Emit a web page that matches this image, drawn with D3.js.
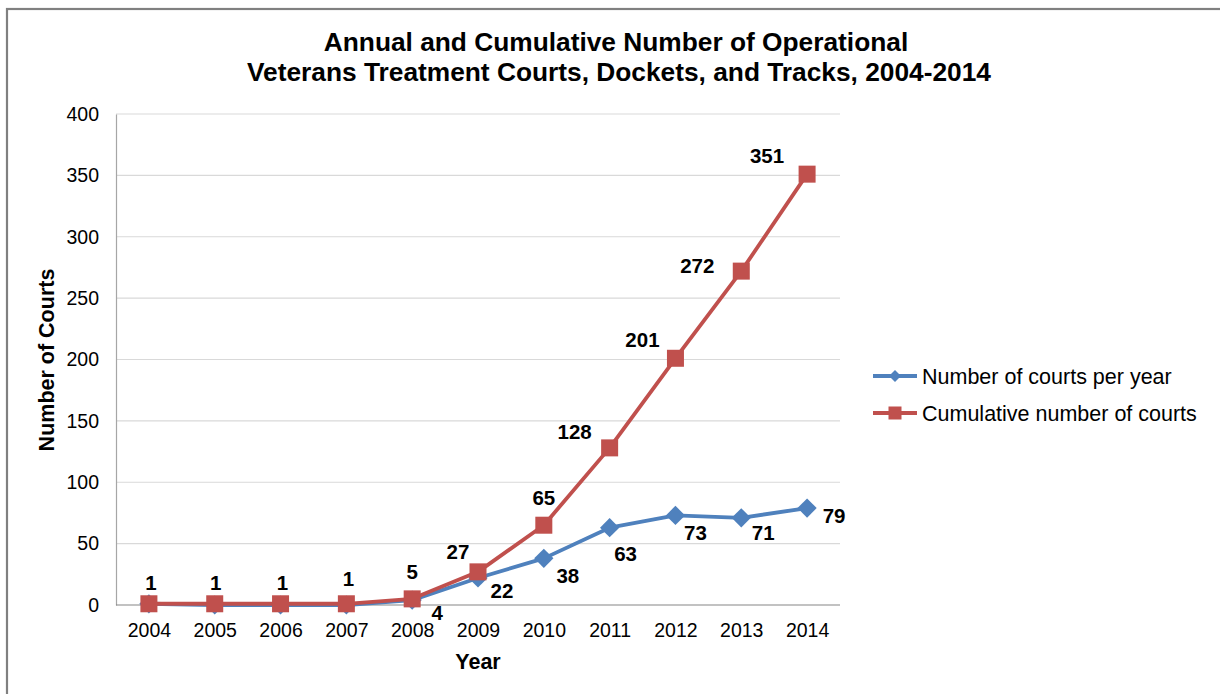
<!DOCTYPE html>
<html><head><meta charset="utf-8">
<script src="https://cdn.jsdelivr.net/npm/d3@7"></script>
<style>body{margin:0;background:#fff;} svg{display:block;font-family:"Liberation Sans",Arial,sans-serif;}</style>
</head><body>
<svg id="c" width="1220" height="694"></svg>
<script>
const years = ["2004","2005","2006","2007","2008","2009","2010","2011","2012","2013","2014"];
const perYear = [1,0,0,0,4,22,38,63,73,71,79];
const cumulative = [1,1,1,1,5,27,65,128,201,272,351];
const yTicks = [0,50,100,150,200,250,300,350,400];
const seriesNames = ["Number of courts per year","Cumulative number of courts"];
const perYearLabelFrom = 4; // labels shown from 2008 onward
// label placement offsets (dx, baseline dy) relative to the marker
const cumOffsets = [[2,-14],[1,-14],[2,-14],[2,-18],[0,-20],[-20,-13],[0,-20],[-35,-9],[-33,-11],[-44,2],[-40,-11]];
const perOffsets = [[0,0],[0,0],[0,0],[0,0],[25,20],[24,20],[24,25],[16,33],[20,25],[22,22],[27,15]];

const svg = d3.select("#c");
const blue = "#4F81BD", red = "#C0504D";
const m = {l:116, r:840, t:114, b:605};
const FONT = "Liberation Sans, Arial, sans-serif";

svg.append("rect").attr("x",7).attr("y",9).attr("width",1240).attr("height",720)
  .attr("fill","none").attr("stroke","#808080").attr("stroke-width",2.2);

const x = d3.scalePoint().domain(years).range([m.l, m.r]).padding(0.5);
const y = d3.scaleLinear().domain([0,400]).range([m.b, m.t]);

// gridlines
svg.append("g").selectAll("line").data(yTicks.filter(d=>d>0)).join("line")
  .attr("x1",m.l).attr("x2",m.r).attr("y1",d=>y(d)).attr("y2",d=>y(d))
  .attr("stroke","#d9d9d9").attr("stroke-width",1.2);

// y axis
const ya = svg.append("g").attr("transform",`translate(${m.l},0)`)
  .call(d3.axisLeft(y).tickValues(yTicks).tickSize(0).tickPadding(17));
ya.select(".domain").attr("stroke","#a6a6a6").attr("stroke-width",1.2);
ya.selectAll("text").attr("font-size",19.5).attr("fill","#000").attr("font-family",FONT);

// x axis
const xa = svg.append("g").attr("transform",`translate(0,${m.b})`)
  .call(d3.axisBottom(x).tickSize(0).tickPadding(18));
xa.select(".domain").attr("stroke","#868686").attr("stroke-width",1.2).attr("d",`M${m.l},0H${m.r}`);
xa.selectAll("text").attr("font-size",19.5).attr("fill","#000").attr("font-family",FONT).attr("dy",0).attr("y",32);

// title
const title = svg.append("text").attr("text-anchor","middle").attr("font-weight","bold").attr("font-size",26.3).attr("fill","#000");
title.append("tspan").attr("x",616).attr("y",51).text("Annual and Cumulative Number of Operational");
title.append("tspan").attr("x",619).attr("y",81).text("Veterans Treatment Courts, Dockets, and Tracks, 2004-2014");

// axis titles
svg.append("text").attr("x",478).attr("y",669).attr("text-anchor","middle").attr("font-weight","bold").attr("font-size",21.5).text("Year");
svg.append("text").attr("transform","translate(54,360) rotate(-90)").attr("text-anchor","middle").attr("font-weight","bold").attr("font-size",21.5).text("Number of Courts");

const line = d3.line().x((d,i)=>x(years[i])).y(d=>y(d));

// per-year series (blue)
svg.append("path").datum(perYear).attr("d",line).attr("fill","none").attr("stroke",blue).attr("stroke-width",3.8).attr("stroke-linejoin","round");
svg.append("g").selectAll("path").data(perYear).join("path")
  .attr("transform",(d,i)=>`translate(${x(years[i])},${y(d)}) rotate(45)`)
  .attr("d",d3.symbol().type(d3.symbolSquare).size(185)).attr("fill",blue);

// cumulative series (red)
svg.append("path").datum(cumulative).attr("d",line).attr("fill","none").attr("stroke",red).attr("stroke-width",3.8).attr("stroke-linejoin","round");
svg.append("g").selectAll("rect").data(cumulative).join("rect")
  .attr("x",(d,i)=>x(years[i])-8.5).attr("y",d=>y(d)-8.5).attr("width",17).attr("height",17).attr("fill",red);

// labels
svg.append("g").selectAll("text").data(cumulative).join("text")
  .attr("x",(d,i)=>x(years[i])+cumOffsets[i][0]).attr("y",(d,i)=>y(d)+cumOffsets[i][1])
  .attr("text-anchor","middle").attr("font-weight","bold").attr("font-size",20.5)
  .attr("font-family",FONT).text(d=>d);
svg.append("g").selectAll("text").data(perYear.map((v,i)=>({v,i})).filter(d=>d.i>=perYearLabelFrom)).join("text")
  .attr("x",d=>x(years[d.i])+perOffsets[d.i][0]).attr("y",d=>y(d.v)+perOffsets[d.i][1])
  .attr("text-anchor","middle").attr("font-weight","bold").attr("font-size",20.5)
  .attr("font-family",FONT).text(d=>d.v);

// legend
const lg = svg.append("g");
[[blue,"d",376],[red,"s",413]].forEach((s,k)=>{
  lg.append("line").attr("x1",873).attr("x2",917).attr("y1",s[2]).attr("y2",s[2]).attr("stroke",s[0]).attr("stroke-width",3.8);
  if(s[1]==="d") lg.append("path").attr("transform",`translate(895,${s[2]}) rotate(45)`).attr("d",d3.symbol().type(d3.symbolSquare).size(72)).attr("fill",s[0]);
  else lg.append("rect").attr("x",888.5).attr("y",s[2]-6.5).attr("width",13).attr("height",13).attr("fill",s[0]);
  lg.append("text").attr("x",922).attr("y",s[2]+8).attr("font-size",21.5).text(seriesNames[k]);
});
</script>
</body></html>
